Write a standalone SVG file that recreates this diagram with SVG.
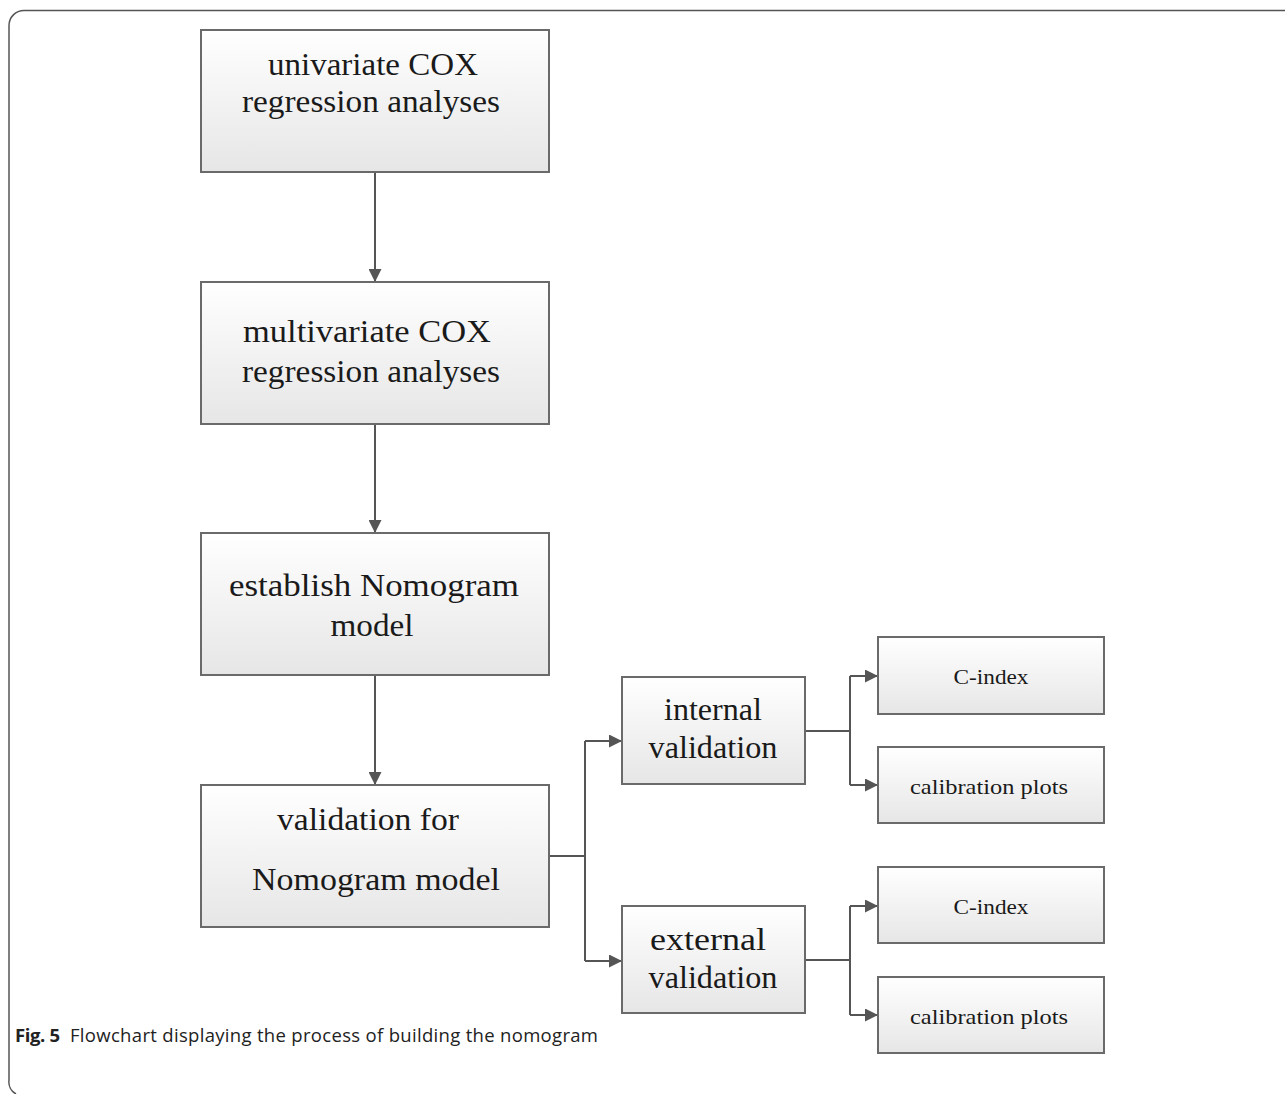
<svg xmlns="http://www.w3.org/2000/svg" width="1285" height="1094" viewBox="0 0 1285 1094">
<defs>
<linearGradient id="g" x1="0" y1="0" x2="0" y2="1">
<stop offset="0" stop-color="#ffffff"/>
<stop offset="1" stop-color="#e6e6e6"/>
</linearGradient>
<marker id="ah" viewBox="0 0 13 13" refX="13" refY="6.5" markerWidth="13" markerHeight="13" markerUnits="userSpaceOnUse" orient="auto">
<path d="M0,0 L13,6.5 L0,13 Z" fill="#555"/>
</marker>
<style>
.box{fill:url(#g);stroke:#6a6a6a;stroke-width:2}
.t{font-family:"Liberation Serif","Times New Roman",serif;fill:#1a1a1a;text-anchor:middle}
.big{font-size:31px}
.mid{font-size:31px}
.sm{font-size:22px}
.c{fill:none;stroke:#555;stroke-width:2}
.cap{font-family:"Open Sans","Noto Sans",sans-serif;font-size:18.5px;fill:#222}
</style>
</defs>
<rect width="1285" height="1094" fill="#fff"/>
<path d="M1285,10.5 H24 A15,15 0 0 0 9,25.5 V1080 A14,14 0 0 0 16,1094" fill="none" stroke="#555" stroke-width="1.5"/>

<g id="connectors">
<path class="c" d="M375,172 V282" marker-end="url(#ah)"/>
<path class="c" d="M375,424 V533" marker-end="url(#ah)"/>
<path class="c" d="M375,675 V785" marker-end="url(#ah)"/>
<path class="c" d="M549,856 H585"/>
<path class="c" d="M585,741 V961"/>
<path class="c" d="M585,741 H622" marker-end="url(#ah)"/>
<path class="c" d="M585,961 H622" marker-end="url(#ah)"/>
<path class="c" d="M805,731 H850"/>
<path class="c" d="M850,676 V785"/>
<path class="c" d="M850,676 H878" marker-end="url(#ah)"/>
<path class="c" d="M850,785 H878" marker-end="url(#ah)"/>
<path class="c" d="M805,960 H850"/>
<path class="c" d="M850,906 V1015"/>
<path class="c" d="M850,906 H878" marker-end="url(#ah)"/>
<path class="c" d="M850,1015 H878" marker-end="url(#ah)"/>
</g>

<g id="n1">
<rect class="box" x="201" y="30" width="348" height="142"/>
<text class="t big" x="373" y="75" textLength="210" lengthAdjust="spacingAndGlyphs">univariate COX</text>
<text class="t big" x="371" y="112" textLength="258" lengthAdjust="spacingAndGlyphs">regression analyses</text>
</g>
<g id="n2">
<rect class="box" x="201" y="282" width="348" height="142"/>
<text class="t big" x="367" y="342" textLength="248" lengthAdjust="spacingAndGlyphs">multivariate COX</text>
<text class="t big" x="371" y="382" textLength="258" lengthAdjust="spacingAndGlyphs">regression analyses</text>
</g>
<g id="n3">
<rect class="box" x="201" y="533" width="348" height="142"/>
<text class="t big" x="374" y="596" textLength="290" lengthAdjust="spacingAndGlyphs">establish  Nomogram</text>
<text class="t big" x="372" y="636" textLength="83" lengthAdjust="spacingAndGlyphs">model</text>
</g>
<g id="n4">
<rect class="box" x="201" y="785" width="348" height="142"/>
<text class="t big" x="368" y="830" textLength="182" lengthAdjust="spacingAndGlyphs">validation for</text>
<text class="t big" x="376" y="890" textLength="248" lengthAdjust="spacingAndGlyphs">Nomogram model</text>
</g>
<g id="n5">
<rect class="box" x="622" y="677" width="183" height="107"/>
<text class="t mid" x="713" y="720" textLength="98" lengthAdjust="spacingAndGlyphs">internal</text>
<text class="t mid" x="713" y="758" textLength="129" lengthAdjust="spacingAndGlyphs">validation</text>
</g>
<g id="n6">
<rect class="box" x="622" y="906" width="183" height="107"/>
<text class="t mid" x="708" y="950" textLength="116" lengthAdjust="spacingAndGlyphs">external</text>
<text class="t mid" x="713" y="988" textLength="129" lengthAdjust="spacingAndGlyphs">validation</text>
</g>
<g id="n7">
<rect class="box" x="878" y="637" width="226" height="77"/>
<text class="t sm" x="991" y="684" textLength="75" lengthAdjust="spacingAndGlyphs">C-index</text>
</g>
<g id="n8">
<rect class="box" x="878" y="747" width="226" height="76"/>
<text class="t sm" x="989" y="794" textLength="158" lengthAdjust="spacingAndGlyphs">calibration plots</text>
</g>
<g id="n9">
<rect class="box" x="878" y="867" width="226" height="76"/>
<text class="t sm" x="991" y="914" textLength="75" lengthAdjust="spacingAndGlyphs">C-index</text>
</g>
<g id="n10">
<rect class="box" x="878" y="977" width="226" height="76"/>
<text class="t sm" x="989" y="1024" textLength="158" lengthAdjust="spacingAndGlyphs">calibration plots</text>
</g>

<text class="cap" x="15" y="1042"><tspan font-weight="bold" textLength="45">Fig. 5</tspan><tspan x="70" textLength="528">Flowchart displaying the process of building the nomogram</tspan></text>
</svg>
